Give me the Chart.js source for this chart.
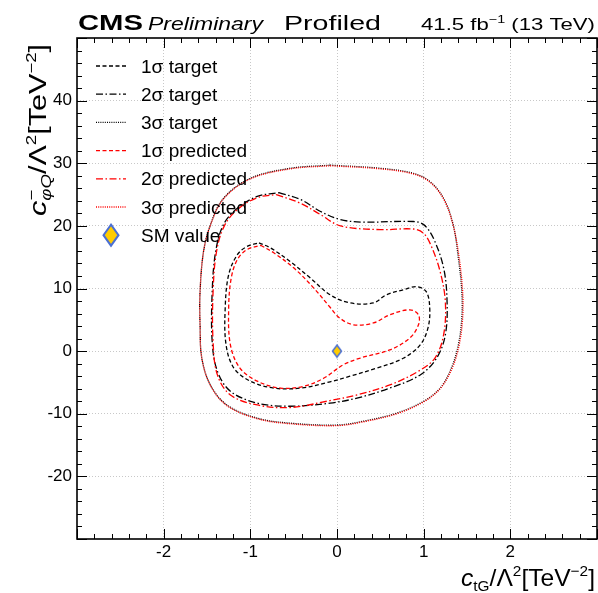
<!DOCTYPE html>
<html>
<head>
<meta charset="utf-8">
<script src="https://cdn.jsdelivr.net/npm/chart.js@4.4.0/dist/chart.umd.min.js"></script>
<style>
  html, body { margin: 0; padding: 0; background: #fff; }
  canvas { display: block; }
</style>
</head>
<body>
<canvas id="grafico" width="598" height="593"></canvas>
<script>
// ticks
const xTicks = [-2, -1, 0, 1, 2];
const yTicks = [-20, -10, 0, 10, 20, 30, 40];

// 1 sigma target (black dashed)
const t1x = [-0.90, -0.77, -0.54, -0.31, -0.08, 0.15, 0.42, 0.57, 0.77, 0.92, 1.03, 1.07, 1.05, 0.96, 0.77, 0.46, 0.15, -0.08, -0.42, -0.73, -1.00, -1.19, -1.28, -1.29, -1.25, -1.15, -1.04, -0.90];
const t1y = [17.3, 16.5, 14.3, 11.7, 9.0, 7.7, 7.7, 9.0, 9.8, 10.3, 9.5, 6.9, 3.7, 1.0, -1.1, -2.7, -4.0, -4.9, -5.9, -5.9, -4.8, -2.7, 1.0, 6.9, 12.2, 15.4, 16.7, 17.3];

// 2 sigma target (black dash-dot)
const t2x = [-0.67, -0.42, -0.19, 0.04, 0.30, 0.88, 1.00, 1.11, 1.23, 1.27, 1.25, 1.15, 0.96, 0.61, 0.23, -0.08, -0.54, -0.92, -1.23, -1.38, -1.44, -1.44, -1.40, -1.31, -1.15, -0.92, -0.67];
const t2y = [25.3, 24.2, 22.3, 21.0, 20.6, 20.7, 20.2, 18.1, 13.3, 7.9, 2.6, -1.1, -3.8, -5.9, -7.5, -8.3, -8.8, -8.3, -6.4, -3.2, 1.5, 9.5, 15.9, 20.2, 22.8, 24.7, 25.3];

// 3 sigma target (black dotted)
const t3x = [-0.08, 0.50, 0.88, 1.07, 1.23, 1.34, 1.40, 1.44, 1.44, 1.40, 1.32, 1.19, 1.00, 0.69, 0.30, 0.00, -0.54, -0.92, -1.27, -1.46, -1.56, -1.58, -1.58, -1.54, -1.46, -1.31, -1.00, -0.54, -0.08];
const t3y = [29.7, 29.2, 28.4, 27.1, 24.4, 20.2, 14.9, 9.5, 5.3, 1.0, -2.7, -5.9, -8.0, -9.9, -11.2, -11.8, -11.5, -10.7, -8.6, -5.4, -1.1, 4.2, 9.5, 15.9, 20.2, 24.4, 27.6, 29.2, 29.7];

// 1 sigma predicted (red dashed)
const p1x = [-0.88, -0.73, -0.50, -0.27, -0.08, 0.03, 0.19, 0.42, 0.61, 0.84, 0.94, 0.94, 0.84, 0.61, 0.27, 0.07, -0.15, -0.38, -0.65, -0.92, -1.12, -1.23, -1.25, -1.22, -1.15, -1.04, -0.88];
const p1y = [16.9, 15.7, 13.3, 10.1, 7.0, 5.3, 4.2, 4.5, 5.8, 6.6, 5.8, 4.2, 2.1, 0.2, -1.1, -2.2, -4.3, -5.6, -5.9, -4.8, -2.7, 1.0, 6.9, 11.7, 14.6, 16.2, 16.9];

// 2 sigma predicted (red dash-dot)
const p2x = [-0.70, -0.42, -0.19, 0.04, 0.50, 0.88, 1.00, 1.09, 1.19, 1.25, 1.23, 1.13, 0.94, 0.61, 0.23, -0.08, -0.54, -0.92, -1.23, -1.38, -1.43, -1.43, -1.39, -1.30, -1.15, -0.92, -0.70];
const p2y = [25.0, 23.6, 21.8, 20.0, 19.4, 19.5, 18.8, 16.7, 12.7, 7.9, 2.6, -1.1, -3.2, -5.4, -7.0, -7.9, -9.0, -8.6, -7.0, -3.8, 1.5, 9.5, 15.9, 20.0, 22.6, 24.5, 25.0];

// 3 sigma predicted (red dotted)
const p3x = [-0.08, 0.50, 0.88, 1.07, 1.23, 1.34, 1.41, 1.45, 1.45, 1.41, 1.33, 1.19, 1.00, 0.69, 0.30, 0.00, -0.54, -0.92, -1.27, -1.46, -1.56, -1.58, -1.58, -1.54, -1.46, -1.31, -1.00, -0.54, -0.08];
const p3y = [29.6, 29.1, 28.3, 27.0, 24.3, 20.1, 14.9, 9.5, 5.3, 1.0, -2.7, -6.0, -8.1, -10.0, -11.3, -11.9, -11.6, -10.8, -8.7, -5.5, -1.1, 4.2, 9.5, 15.9, 20.1, 24.3, 27.5, 29.1, 29.6];

// SM point
const smX = [0];
const smY = [0];

const legendLabels = ['1σ target', '2σ target', '3σ target', '1σ predicted', '2σ predicted', '3σ predicted', 'SM value'];

const tracejado = [4, 2.5];
const tracoPonto = [7, 2.5, 1.5, 2.5];
const pontilhado = [1, 1.2];
const FONTE = '"Liberation Sans", Arial, sans-serif';

function pares(xs, ys) {
  return xs.map((v, i) => ({ x: v, y: ys[i] }));
}

function desenharLosango(ctx, cx, cy, w, h, lw) {
  ctx.save();
  ctx.setLineDash([]);
  ctx.beginPath();
  ctx.moveTo(cx, cy - h / 2);
  ctx.lineTo(cx + w / 2, cy);
  ctx.lineTo(cx, cy + h / 2);
  ctx.lineTo(cx - w / 2, cy);
  ctx.closePath();
  ctx.fillStyle = '#ffcc00';
  ctx.fill();
  ctx.lineWidth = lw;
  ctx.strokeStyle = '#4a6fd4';
  ctx.stroke();
  ctx.restore();
}

function losangoCanvas(w, h, lw) {
  const c = document.createElement('canvas');
  c.width = w + 2 * lw;
  c.height = h + 2 * lw;
  desenharLosango(c.getContext('2d'), c.width / 2, c.height / 2, w, h, lw);
  return c;
}

// texto com partes (sub/sobrescritos), opcionalmente esticado para uma largura
function larguraRica(ctx, partes) {
  let w = 0;
  partes.forEach(p => {
    ctx.font = p.f;
    if (!p.semAvanco) w += ctx.measureText(p.t).width;
  });
  return w;
}

function textoRico(ctx, partes, x, y, larguraAlvo, alinhar, escala) {
  const w = larguraRica(ctx, partes);
  const sx = larguraAlvo ? larguraAlvo / w : (escala || 1);
  ctx.save();
  ctx.translate(x, y);
  ctx.scale(sx, 1);
  ctx.textBaseline = 'alphabetic';
  ctx.textAlign = 'left';
  let cx = alinhar === 'right' ? -w : 0;
  partes.forEach(p => {
    ctx.font = p.f;
    ctx.fillText(p.t, cx, p.dy || 0);
    if (!p.semAvanco) cx += ctx.measureText(p.t).width;
  });
  ctx.restore();
}

const datasets = [
  { label: 'SM value', data: pares(smX, smY), showLine: false, pointStyle: losangoCanvas(9, 12, 1.5), pointRadius: 6, order: 0 },
  { label: legendLabels[3], data: pares(p1x, p1y), borderColor: '#ff0000', borderDash: tracejado, order: 1 },
  { label: legendLabels[4], data: pares(p2x, p2y), borderColor: '#ff0000', borderDash: tracoPonto, order: 1 },
  { label: legendLabels[5], data: pares(p3x, p3y), borderColor: '#ff0000', borderDash: pontilhado, order: 1 },
  { label: legendLabels[0], data: pares(t1x, t1y), borderColor: '#000000', borderDash: tracejado, order: 2 },
  { label: legendLabels[1], data: pares(t2x, t2y), borderColor: '#000000', borderDash: tracoPonto, order: 2 },
  { label: legendLabels[2], data: pares(t3x, t3y), borderColor: '#000000', borderDash: pontilhado, order: 2 }
];
datasets.forEach(d => {
  if (d.label !== 'SM value') {
    d.showLine = true;
    d.pointRadius = 0;
    d.borderWidth = 1.3;
    d.tension = 0.35;
    d.fill = false;
  }
});

// moldura, ticks internos, titulos e legenda
const molduraPlugin = {
  id: 'moldura',
  afterDraw(chart) {
    const { ctx, chartArea: a, scales: { x, y } } = chart;
    ctx.save();
    ctx.setLineDash([]);
    ctx.strokeStyle = '#000';
    ctx.lineWidth = 1;
    ctx.beginPath();
    for (let i = 0; i <= 30; i++) {
      const v = -3 + i * 0.2;
      const px = Math.round(x.getPixelForValue(v)) + 0.5;
      const len = i % 5 === 0 ? 10 : 5;
      ctx.moveTo(px, a.bottom); ctx.lineTo(px, a.bottom - len);
      ctx.moveTo(px, a.top); ctx.lineTo(px, a.top + len);
    }
    for (let v = -30; v <= 50; v += 2) {
      const py = Math.round(y.getPixelForValue(v)) + 0.5;
      const len = v % 10 === 0 ? 10 : 5;
      ctx.moveTo(a.left, py); ctx.lineTo(a.left + len, py);
      ctx.moveTo(a.right, py); ctx.lineTo(a.right - len, py);
    }
    ctx.stroke();
    ctx.lineWidth = 1.6;
    ctx.strokeRect(a.left, a.top, a.right - a.left, a.bottom - a.top);

    // legenda
    const linhas = [
      ['#000', tracejado], ['#000', tracoPonto], ['#000', pontilhado],
      ['#ff0000', tracejado], ['#ff0000', tracoPonto], ['#ff0000', pontilhado]
    ];
    const y0 = 66, passo = 28.2;
    ctx.fillStyle = '#000';
    linhas.forEach((l, i) => {
      const yy = y0 + i * passo;
      ctx.strokeStyle = l[0];
      ctx.lineWidth = 1.3;
      ctx.setLineDash(l[1]);
      ctx.beginPath();
      ctx.moveTo(96, yy); ctx.lineTo(126, yy);
      ctx.stroke();
    });
    ctx.setLineDash([]);
    desenharLosango(ctx, 111, y0 + 6 * passo, 15, 21, 2);
    const fLeg = '18px ' + FONTE;
    const escLeg = 106 / larguraRica(ctx, [{ t: '1σ predicted', f: fLeg }]);
    legendLabels.forEach((t, i) => {
      textoRico(ctx, [{ t: t, f: fLeg }], 141, y0 + i * passo + 6.5, null, 'left', escLeg);
    });

    // cabecalho
    ctx.fillStyle = '#000';
    textoRico(ctx, [{ t: 'CMS', f: 'bold 22px ' + FONTE }], 78, 30, 65);
    textoRico(ctx, [{ t: 'Preliminary', f: 'italic 19px ' + FONTE }], 148, 30, 115);
    textoRico(ctx, [{ t: 'Profiled', f: '21px ' + FONTE }], 284, 30, 97);
    textoRico(ctx, [
      { t: '41.5 fb', f: '17px ' + FONTE },
      { t: '−1', f: '11px ' + FONTE, dy: -7 },
      { t: ' (13 TeV)', f: '17px ' + FONTE }
    ], 595, 30, 174, 'right');

    // titulo eixo x
    textoRico(ctx, [
      { t: 'c', f: 'italic 24px ' + FONTE },
      { t: 'tG', f: '15px ' + FONTE, dy: 5 },
      { t: '/Λ', f: '24px ' + FONTE },
      { t: '2', f: '15px ' + FONTE, dy: -10 },
      { t: '[TeV', f: '24px ' + FONTE },
      { t: '−2', f: '15px ' + FONTE, dy: -10 },
      { t: ']', f: '24px ' + FONTE }
    ], 595, 586, 134, 'right');

    // titulo eixo y
    ctx.save();
    ctx.translate(46, 216);
    ctx.rotate(-Math.PI / 2);
    textoRico(ctx, [
      { t: 'c', f: 'italic 23px ' + FONTE },
      { t: '−', f: '14px ' + FONTE, dy: -10, semAvanco: true },
      { t: 'φQ', f: 'italic 14px ' + FONTE, dy: 5 },
      { t: '/Λ', f: '23px ' + FONTE },
      { t: '2', f: '14px ' + FONTE, dy: -10 },
      { t: '[TeV', f: '23px ' + FONTE },
      { t: '−2', f: '14px ' + FONTE, dy: -10 },
      { t: ']', f: '23px ' + FONTE }
    ], 0, 0, 172);
    ctx.restore();
    ctx.restore();
  }
};

const grade = { color: '#c8c8c8', lineWidth: 1, drawTicks: false };

new Chart(document.getElementById('grafico'), {
  type: 'scatter',
  data: { datasets: datasets },
  options: {
    responsive: false,
    animation: false,
    layout: { autoPadding: false, padding: { top: 38, right: 1, left: 0, bottom: 0 } },
    plugins: { legend: { display: false }, tooltip: { enabled: false } },
    scales: {
      x: {
        type: 'linear', min: -3, max: 3, position: 'bottom',
        grid: grade,
        border: { display: false, dash: [1, 2] },
        ticks: { color: '#000', font: { size: 17, family: FONTE }, padding: 3 },
        afterBuildTicks: s => { s.ticks = xTicks.map(v => ({ value: v })); },
        afterFit: s => { s.height = 54; s.paddingLeft = 0; s.paddingRight = 0; }
      },
      y: {
        type: 'linear', min: -30, max: 50, position: 'left',
        grid: grade,
        border: { display: false, dash: [1, 2] },
        ticks: { color: '#000', font: { size: 17, family: FONTE }, padding: 5 },
        afterBuildTicks: s => { s.ticks = yTicks.map(v => ({ value: v })); },
        afterFit: s => { s.width = 77; s.paddingTop = 0; s.paddingBottom = 0; }
      }
    }
  },
  plugins: [molduraPlugin]
});
</script>
</body>
</html>
